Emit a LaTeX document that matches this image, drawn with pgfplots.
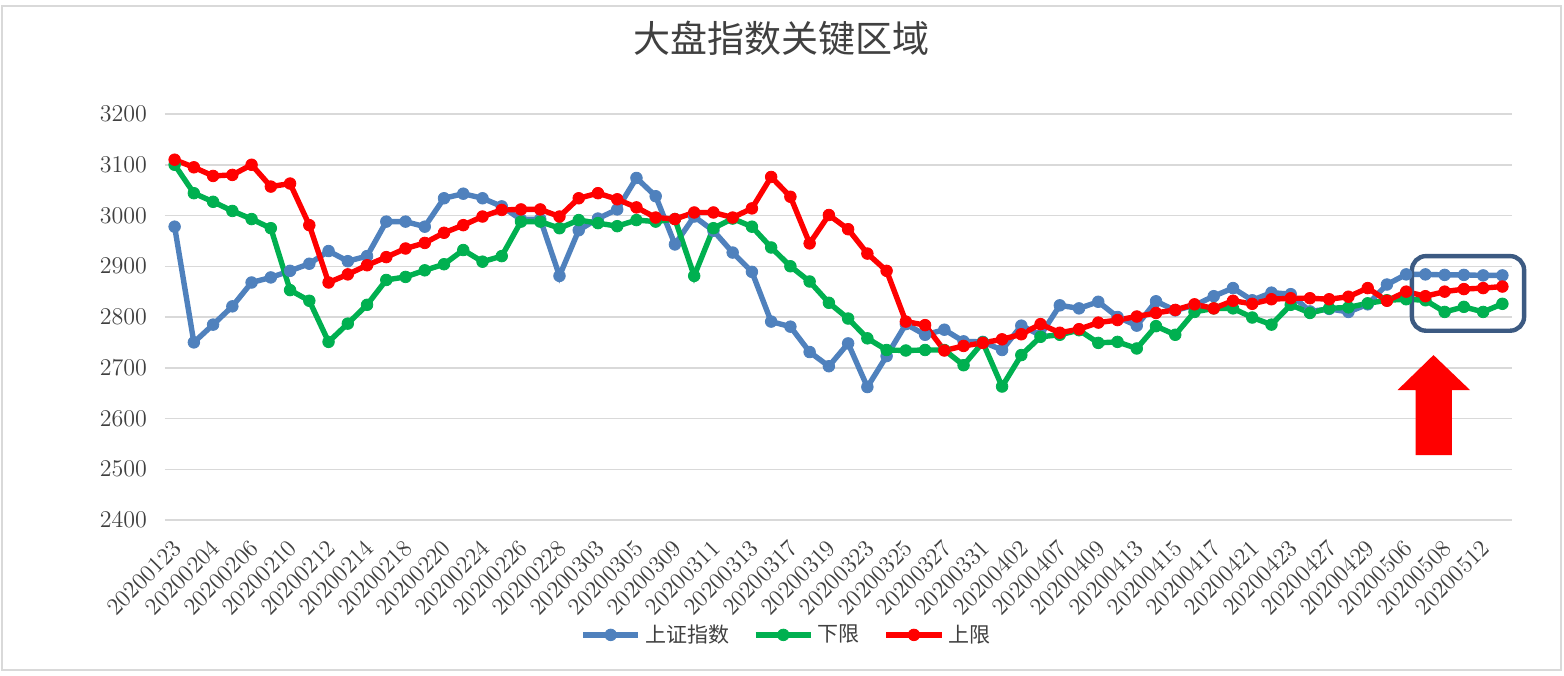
\documentclass[border=0pt]{standalone}
\usepackage{fontspec}
\usepackage{pgfplots}
\usepackage{pgfplotstable}
\pgfplotsset{compat=1.18}
\newfontfamily\cjk{Noto Sans CJK SC}

\definecolor{shblue}{HTML}{4F81BD}
\definecolor{lowgreen}{HTML}{00B050}
\definecolor{upred}{HTML}{FF0000}
\definecolor{gridgray}{HTML}{D9D9D9}
\definecolor{txtgray}{HTML}{404040}
\definecolor{boxblue}{HTML}{3C5A82}

% idx  sh = 上证指数, low = 下限, up = 上限
\pgfplotstableread{
i sh low up
0 2978 3100 3110
1 2750 3044 3095
2 2785 3027 3078
3 2821 3009 3080
4 2868 2993 3100
5 2878 2975 3057
6 2891 2853 3063
7 2905 2832 2981
8 2930 2751 2868
9 2910 2787 2884
10 2920 2824 2902
11 2988 2873 2918
12 2988 2879 2935
13 2978 2892 2946
14 3034 2904 2966
15 3043 2932 2981
16 3034 2909 2998
17 3018 2920 3011
18 2992 2988 3012
19 2993 2988 3012
20 2881 2975 2998
21 2971 2991 3034
22 2994 2985 3044
23 3012 2979 3032
24 3074 2991 3016
25 3038 2988 2996
26 2943 2993 2993
27 2998 2881 3006
28 2970 2975 3006
29 2927 2994 2996
30 2889 2978 3014
31 2791 2937 3076
32 2781 2900 3037
33 2731 2870 2945
34 2703 2828 3001
35 2748 2797 2973
36 2662 2758 2925
37 2723 2735 2891
38 2786 2734 2791
39 2765 2735 2784
40 2775 2735 2734
41 2752 2705 2743
42 2751 2750 2749
43 2735 2663 2756
44 2783 2725 2766
45 2764 2761 2786
46 2823 2765 2769
47 2817 2774 2776
48 2830 2749 2789
49 2800 2751 2794
50 2783 2738 2801
51 2831 2782 2808
52 2813 2765 2814
53 2823 2810 2825
54 2841 2817 2817
55 2857 2817 2832
56 2833 2799 2826
57 2848 2785 2835
58 2845 2824 2837
59 2811 2808 2837
60 2816 2817 2835
61 2810 2819 2840
62 2825 2827 2857
63 2864 2833 2832
64 2884 2835 2850
65 2884 2833 2841
66 2883 2810 2850
67 2883 2820 2855
68 2882 2810 2857
69 2882 2826 2860
}\datatable

\begin{document}
\begin{tikzpicture}
\useasboundingbox[fill=white] (-82.5pt,-77.5pt) rectangle (699.5pt,260pt);
\draw[gridgray, line width=0.75pt] (-81.5pt,-75pt) rectangle (698pt,257pt);
\begin{axis}[
  at={(0,0)}, anchor=south west,
  width=673.5pt, height=203pt, scale only axis,
  xmin=-0.5, xmax=69.5, ymin=2400, ymax=3200,
  ytick={2400,2500,...,3200},
  /pgf/number format/1000 sep={},
  xtick={0,2,...,68},
  xticklabels={20200123,20200204,20200206,20200210,20200212,20200214,20200218,
    20200220,20200224,20200226,20200228,20200303,20200305,20200309,20200311,
    20200313,20200317,20200319,20200323,20200325,20200327,20200331,20200402,
    20200407,20200409,20200413,20200415,20200417,20200421,20200423,20200427,
    20200429,20200506,20200508,20200512},
  ymajorgrids,
  grid style={draw=gridgray, line width=0.75pt},
  axis line style={draw=none},
  major tick length=0pt,
  ticklabel style={font=\fontsize{12}{14}\selectfont, text=txtgray},
  yticklabel style={xshift=-5.5pt},
  xticklabel style={xshift=3.8pt, yshift=-9.7pt, rotate=45, anchor=east},
  clip=false,
  title={大盘指数关键区域},
  title style={at={(0.458,1.158)}, anchor=center,
    font=\cjk\fontsize{18.5}{22}\selectfont, text=txtgray},
  legend columns=-1,
  legend style={at={(0.462,-0.283)}, anchor=center, draw=none, fill=none,
    font=\cjk\fontsize{10.5}{13}\selectfont, text=txtgray,
    /tikz/every even column/.append style={column sep=10pt}},
  legend image code/.code={\draw[mark repeat=2,mark phase=2,#1]
    plot coordinates {(0cm,0cm) (0.485cm,0cm) (0.97cm,0cm)};},
  every axis plot/.append style={line width=2.7pt, mark=*, mark size=2.9pt,
    mark options={line width=0.4pt}},
]
\addplot[shblue] table[x=i, y=sh] {\datatable};
\addplot[lowgreen] table[x=i, y=low] {\datatable};
\addplot[upred] table[x=i, y=up] {\datatable};
\legend{上证指数,下限,上限}

\fill[upred] (axis cs:64.49,2528) -- (axis cs:64.49,2656) -- (axis cs:63.55,2656)
  -- (axis cs:65.42,2725) -- (axis cs:67.32,2656) -- (axis cs:66.37,2656)
  -- (axis cs:66.37,2528) -- cycle;
\draw[boxblue, line width=2.2pt, rounded corners=7pt]
  (axis cs:64.30,2773) rectangle (axis cs:70.13,2920);
\end{axis}
\end{tikzpicture}
\end{document}
